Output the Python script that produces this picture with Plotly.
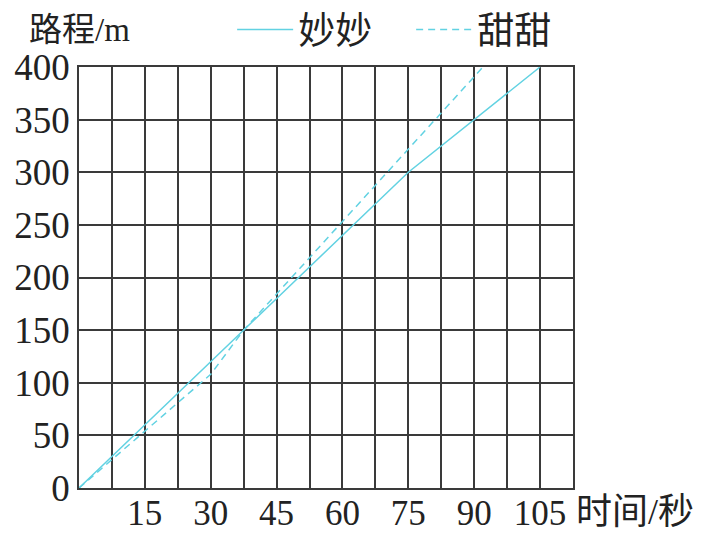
import plotly.graph_objects as go

# Data
miao_t = [0, 75, 105]
miao_d = [0, 300, 400]
tian_t = [0, 30, 37.5, 92]
tian_d = [0, 108, 150, 400]
x_tickvals = [15, 30, 45, 60, 75, 90, 105]
x_ticktext = ["15", "30", "45", "60", "75", "90", "105"]
y_tickvals = [0, 50, 100, 150, 200, 250, 300, 350, 400]
y_ticktext = ["0", "50", "100", "150", "200", "250", "300", "350", "400"]

LINE = "#62d2e2"
GRID = "#3a3a3a"
FONT = "Liberation Serif, Noto Sans CJK SC"

fig = go.Figure()
fig.add_trace(go.Scatter(x=miao_t, y=miao_d, mode="lines", name="妙妙",
                         line=dict(color=LINE, width=1.5)))
fig.add_trace(go.Scatter(x=tian_t, y=tian_d, mode="lines", name="甜甜",
                         line=dict(color=LINE, width=1.5, dash="7px,5px")))

# page body has an 8px default margin: figure is sized to fit inside the window
fig.update_layout(
    width=711, height=525,
    margin=dict(l=71, r=146, t=59, b=45, autoexpand=False),
    paper_bgcolor="white", plot_bgcolor="white",
    font=dict(family=FONT, color="#222", size=36),
    showlegend=True,
    legend=dict(orientation="h", x=0.31, xanchor="left", yref="container", y=0.958,
                yanchor="middle", font=dict(size=37, family=FONT, color="#222"),
                bgcolor="rgba(0,0,0,0)", itemwidth=56, entrywidth=108,
                entrywidthmode="pixels", tracegroupgap=0),
    xaxis=dict(range=[0, 112.5], tickmode="array", tickvals=x_tickvals, ticktext=x_ticktext,
               showgrid=True, gridcolor=GRID, gridwidth=1.5,
               minor=dict(tickmode="linear", tick0=0, dtick=7.5, showgrid=True,
                          gridcolor=GRID, gridwidth=1.5),
               showline=True, mirror=True, linecolor=GRID, linewidth=1.5,
               zeroline=False, ticks="", ticklabelstandoff=-7,
               tickfont=dict(size=35, family=FONT, color="#222"),
               automargin=False, fixedrange=True),
    yaxis=dict(range=[0, 400], tickmode="array", tickvals=y_tickvals, ticktext=y_ticktext,
               showgrid=True, gridcolor=GRID, gridwidth=1.5,
               showline=True, mirror=True, linecolor=GRID, linewidth=1.5,
               zeroline=False, ticks="",
               tickfont=dict(size=37, family=FONT, color="#222"),
               automargin=False, fixedrange=True),
    annotations=[
        dict(text="路程/m", xref="paper", yref="paper", x=-0.105, y=1.088,
             xanchor="left", yanchor="middle", showarrow=False,
             font=dict(size=33, family=FONT, color="#222")),
        dict(text="时间/秒", xref="paper", yref="paper", x=1.002, y=-0.057,
             xanchor="left", yanchor="middle", showarrow=False,
             font=dict(size=36, family=FONT, color="#222")),
    ],
)

fig.write_html("out.html")
